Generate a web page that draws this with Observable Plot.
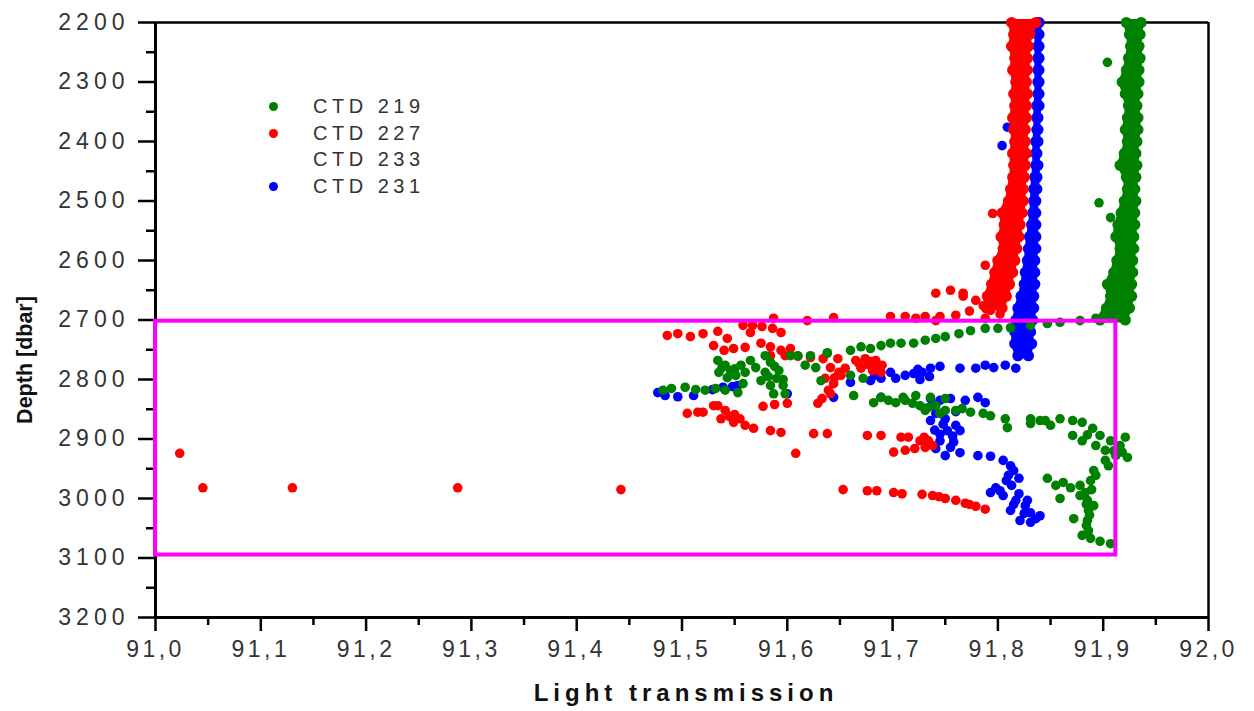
<!DOCTYPE html>
<html>
<head>
<meta charset="utf-8">
<script src="https://cdn.jsdelivr.net/npm/d3@7"></script>
<script src="https://cdn.jsdelivr.net/npm/@observablehq/plot@0.6"></script>
<style>
  html, body { margin: 0; padding: 0; background: #fff; }
  #wrap { position: relative; width: 1254px; height: 711px; font-family: "Liberation Sans", Arial, sans-serif; }
  #wrap svg g[aria-label="y-axis tick label"] text { letter-spacing: 5px; fill: #333; }
  #wrap svg g[aria-label="x-axis tick label"] text { letter-spacing: 3.5px; fill: #333; }
  .ylab { position: absolute; left: 25px; top: 360px; transform: translate(-50%, -50%) rotate(-90deg);
          font-size: 21.5px; font-weight: bold; color: #111; white-space: nowrap; }
  .xlab { position: absolute; left: 686px; top: 693px; transform: translate(-50%, -50%);
          font-size: 24px; font-weight: bold; letter-spacing: 5px; color: #111; white-space: nowrap; }
  .legend { position: absolute; left: 265px; top: 93px; }
  .legend .row { display: flex; align-items: center; height: 26.7px; }
  .legend .sw { width: 9px; height: 9px; border-radius: 50%; margin-left: 3.5px; }
  .legend .lb { margin-left: 35.5px; font-size: 20px; letter-spacing: 4.5px; color: #333; }
</style>
</head>
<body>
<div id="wrap"></div>
<script>
// ---------- legend / series ----------
const seriesNames = ["CTD 219", "CTD 227", "CTD 233", "CTD 231"];
const seriesColors = ["#008000", "#ff0000", "none", "#0000ff"];

// ---------- axes ----------
const xTicks = [91.0, 91.1, 91.2, 91.3, 91.4, 91.5, 91.6, 91.7, 91.8, 91.9, 92.0];
const xMinorTicks = [91.05, 91.15, 91.25, 91.35, 91.45, 91.55, 91.65, 91.75, 91.85, 91.95];
const yTicks = [2200, 2300, 2400, 2500, 2600, 2700, 2800, 2900, 3000, 3100, 3200];
const yMinorTicks = [2250, 2350, 2450, 2550, 2650, 2750, 2850, 2950, 3050, 3150];
const xTitle = "Light transmission";
const yTitle = "Depth [dbar]";

// highlighted region (magenta box)
const boxX = [91.0, 91.912];
const boxY = [2702, 3095];

// ---------- dense vertical profile bands (edges of the dot band) ----------
const greenBandDepth = [2200, 2220, 2240, 2260, 2280, 2300, 2320, 2340, 2360, 2380, 2400, 2420, 2440, 2460, 2480, 2500, 2520, 2540, 2560, 2580, 2600, 2620, 2640, 2660, 2680, 2700];
const greenBandLeft  = [91.922, 91.925, 91.926, 91.924, 91.922, 91.918, 91.921, 91.924, 91.923, 91.921, 91.923, 91.920, 91.916, 91.922, 91.923, 91.920, 91.917, 91.914, 91.912, 91.916, 91.913, 91.910, 91.904, 91.907, 91.903, 91.897];
const greenBandRight = [91.936, 91.935, 91.934, 91.935, 91.934, 91.934, 91.933, 91.932, 91.933, 91.933, 91.932, 91.931, 91.932, 91.931, 91.930, 91.931, 91.930, 91.930, 91.929, 91.929, 91.928, 91.928, 91.927, 91.927, 91.925, 91.921];

const redBandDepth = [2200, 2220, 2240, 2260, 2280, 2300, 2320, 2340, 2360, 2380, 2400, 2420, 2440, 2460, 2480, 2500, 2520, 2540, 2560, 2580, 2600, 2620, 2640, 2660, 2680];
const redBandLeft  = [91.813, 91.815, 91.813, 91.816, 91.814, 91.817, 91.815, 91.816, 91.814, 91.815, 91.816, 91.814, 91.815, 91.814, 91.812, 91.810, 91.804, 91.806, 91.803, 91.805, 91.800, 91.797, 91.794, 91.790, 91.789];
const redBandRight = [91.836, 91.830, 91.829, 91.828, 91.828, 91.827, 91.828, 91.827, 91.827, 91.826, 91.826, 91.827, 91.826, 91.825, 91.824, 91.824, 91.823, 91.821, 91.820, 91.818, 91.816, 91.814, 91.811, 91.808, 91.804];

const blueBandDepth = [2200, 2220, 2240, 2260, 2280, 2300, 2320, 2340, 2360, 2380, 2400, 2420, 2440, 2460, 2480, 2500, 2520, 2540, 2560, 2580, 2600, 2620, 2640, 2660, 2680, 2700, 2720, 2740, 2760];
const blueBandLeft  = [91.838, 91.838, 91.838, 91.838, 91.838, 91.838, 91.838, 91.837, 91.837, 91.837, 91.836, 91.836, 91.836, 91.835, 91.834, 91.834, 91.833, 91.832, 91.830, 91.829, 91.828, 91.826, 91.825, 91.822, 91.819, 91.817, 91.816, 91.816, 91.819];
const blueBandRight = [91.839, 91.839, 91.839, 91.839, 91.839, 91.839, 91.839, 91.839, 91.838, 91.838, 91.838, 91.837, 91.838, 91.837, 91.837, 91.836, 91.836, 91.836, 91.836, 91.836, 91.835, 91.835, 91.835, 91.834, 91.834, 91.833, 91.831, 91.832, 91.829];

// ---------- scattered samples [light transmission, depth] ----------
const redPoints = [
  [91.788,2608],[91.795,2521],[91.767,2660],[91.802,2676],
  [91.741,2655],[91.755,2650],[91.767,2655],[91.779,2667],[91.786,2676],[91.760,2692],[91.741,2701],[91.722,2697],[91.788,2697],[91.802,2690],[91.793,2684],[91.773,2685],
  [91.587,2697],[91.619,2701],[91.644,2696],[91.698,2694],[91.712,2694],[91.731,2694],[91.745,2694],
  [91.486,2726],[91.496,2723],[91.508,2728],[91.520,2723],[91.534,2719],[91.543,2731],[91.530,2743],[91.540,2751],[91.549,2748],[91.560,2746],
  [91.558,2709],[91.567,2709],[91.576,2711],[91.586,2714],[91.594,2721],[91.565,2721],[91.575,2739],[91.584,2745],[91.594,2751],[91.603,2748],
  [91.584,2760],[91.598,2760],[91.610,2761],[91.622,2763],[91.634,2765],[91.648,2765],
  [91.665,2768],[91.674,2765],[91.684,2768],[91.690,2776],[91.670,2781],[91.681,2785],[91.689,2788],[91.677,2775],[91.668,2773],[91.686,2780],[91.680,2770],
  [91.641,2780],[91.649,2788],[91.636,2798],[91.644,2807],[91.639,2818],[91.633,2832],[91.641,2824],[91.651,2793],[91.629,2840],[91.655,2781],[91.645,2797],
  [91.505,2857],[91.515,2855],[91.520,2855],[91.534,2844],[91.541,2852],[91.550,2859],[91.537,2866],[91.549,2872],[91.560,2877],[91.568,2882],[91.555,2866],[91.530,2844],[91.545,2862],
  [91.577,2845],[91.588,2842],[91.600,2840],[91.584,2886],[91.594,2889],[91.625,2891],[91.638,2891],[91.608,2924],[91.676,2894],[91.689,2894],[91.708,2897],[91.715,2897],
  [91.726,2903],[91.734,2903],[91.738,2911],[91.731,2914],[91.721,2916],[91.712,2919],[91.701,2922],[91.730,2897],
  [91.653,2985],[91.676,2987],[91.685,2987],[91.701,2990],[91.709,2992],[91.728,2993],[91.738,2995],[91.744,2997],[91.750,3000],[91.760,3003],[91.769,3008],[91.773,3010],[91.779,3013],[91.788,3018],
  [91.023,2924],[91.045,2982],[91.130,2982],[91.287,2982],[91.442,2985]
];

const greenPoints = [
  [91.904,2267],[91.896,2503],[91.907,2528],
  [91.893,2697],[91.878,2701],[91.859,2704],[91.847,2706],[91.831,2709],[91.812,2713],[91.800,2714],[91.788,2714],[91.774,2718],[91.763,2723],[91.750,2728],[91.741,2731],[91.731,2734],[91.720,2739],[91.708,2739],[91.698,2739],[91.689,2743],[91.679,2748],[91.670,2745],[91.660,2751],[91.638,2756],[91.622,2760],[91.610,2760],
  [91.534,2768],[91.541,2776],[91.535,2788],[91.546,2785],[91.556,2776],[91.560,2788],[91.565,2768],[91.551,2793],[91.543,2797],[91.579,2760],[91.584,2771],[91.592,2785],[91.579,2788],[91.590,2798],[91.575,2802],[91.596,2810],[91.584,2810],[91.603,2760],[91.617,2776],[91.627,2780],[91.632,2802],[91.638,2755],
  [91.538,2780],[91.550,2782],[91.570,2780],[91.588,2778],[91.582,2795],[91.596,2800],
  [91.482,2818],[91.490,2815],[91.503,2813],[91.513,2817],[91.522,2818],[91.532,2815],[91.541,2818],[91.553,2822],[91.558,2807],[91.587,2824],[91.598,2824],
  [91.660,2793],[91.672,2798],[91.663,2827],
  [91.682,2839],[91.689,2830],[91.696,2835],[91.703,2839],[91.712,2835],[91.719,2840],[91.726,2844],[91.734,2847],[91.741,2844],[91.750,2852],[91.760,2852],[91.766,2849],[91.774,2855],[91.786,2857],[91.793,2861],[91.807,2866],[91.809,2881],[91.831,2866],[91.840,2869],[91.850,2877],[91.859,2866],[91.871,2869],[91.880,2872],[91.890,2882],[91.710,2830],[91.722,2827],[91.736,2830],[91.750,2832],[91.731,2852],[91.745,2857],[91.831,2874],[91.845,2869],
  [91.897,2894],[91.907,2903],[91.916,2911],[91.921,2897],[91.912,2928],[91.923,2931],[91.902,2919],[91.893,2911],[91.902,2936],[91.891,2953],[91.880,2903],[91.871,2894],[91.885,2893],[91.910,2920],[91.918,2922],[91.905,2945],
  [91.847,2966],[91.855,2978],[91.862,2973],[91.869,2982],[91.878,2978],[91.883,2990],[91.888,2970],[91.893,2961],[91.885,3003],[91.886,3020],[91.885,3037],[91.886,3054],[91.888,3067],[91.897,3072],[91.907,3076],[91.859,3000],[91.872,3034],[91.878,2995],[91.891,3012],[91.880,3062],[91.884,3045],[91.889,2985],[91.887,3028],[91.884,3010]
];

const bluePoints = [
  [91.809,2376],[91.804,2407],
  [91.807,2776],[91.817,2781],[91.796,2780],[91.788,2776],[91.779,2781],[91.764,2781],[91.745,2778],[91.736,2781],[91.728,2788],[91.712,2793],[91.703,2798],[91.689,2798],[91.679,2802],[91.660,2805],[91.644,2830],[91.689,2830],[91.600,2824],[91.720,2790],[91.726,2800],[91.698,2788],[91.724,2783],[91.735,2795],[91.683,2793],
  [91.477,2822],[91.484,2827],[91.496,2829],[91.511,2827],[91.529,2817],[91.539,2813],[91.548,2812],[91.553,2810],
  [91.736,2832],[91.745,2835],[91.755,2832],[91.769,2835],[91.781,2830],[91.788,2839],[91.731,2849],[91.741,2857],[91.750,2866],[91.760,2877],[91.764,2886],[91.752,2886],[91.745,2903],[91.755,2914],[91.764,2923],[91.750,2928],[91.741,2916],[91.736,2869],[91.760,2854],[91.781,2928],[91.793,2929],
  [91.740,2845],[91.748,2875],[91.757,2895],[91.745,2892],[91.758,2905],[91.740,2885],
  [91.805,2936],[91.812,2945],[91.810,2961],[91.813,2978],[91.802,2987],[91.793,2990],[91.798,2982],[91.820,2992],[91.817,3003],[91.826,3012],[91.831,3024],[91.836,3034],[91.831,3040],[91.821,3037],[91.812,3020],[91.840,3029],[91.815,2953],[91.820,2966],
  [91.808,2970],[91.805,2995],[91.825,3025],[91.828,3003],[91.815,3010]
];

// ---------- build tables ----------
const band = (depths, left, right) => depths.map((d, i) => ({depth: d, left: left[i], right: right[i]}));
const pts = (arr) => arr.map(([x, depth]) => ({x, depth}));
const green = seriesColors[0], red = seriesColors[1], blue = seriesColors[3];
const R = 4.8;       // scattered samples
const RB = 5.6;      // dense band samples
const fmtX = d => d.toFixed(1).replace(".", ",");

function bandMarks(rows, color) {
  return [
    Plot.areaX(rows, {y: "depth", x1: "left", x2: "right", fill: color, stroke: color, strokeWidth: 6}),
    Plot.dot(rows, {x: "left", y: "depth", r: RB, fill: color}),
    Plot.dot(rows, {x: "right", y: "depth", r: RB, fill: color})
  ];
}

const chart = Plot.plot({
  width: 1254,
  height: 711,
  marginLeft: 155,
  marginRight: 46,
  marginTop: 22,
  marginBottom: 94,
  style: {background: "white", fontFamily: "'Liberation Sans', Arial, sans-serif", color: "#000"},
  x: {domain: [91, 92]},
  y: {domain: [2200, 3200], reverse: true},
  marks: [
    Plot.axisY(yTicks, {anchor: "left", tickSize: 17, tickPadding: 9, tickFormat: d => String(d), fontSize: 23, strokeWidth: 2.5, label: null}),
    Plot.axisY(yMinorTicks, {anchor: "left", tickSize: 9, tickFormat: () => "", strokeWidth: 2.5, label: null}),
    Plot.axisX(xTicks, {anchor: "bottom", tickSize: 14, tickPadding: 9, tickFormat: fmtX, fontSize: 23, strokeWidth: 2.5, label: null}),
    Plot.axisX(xMinorTicks, {anchor: "bottom", tickSize: 8, tickFormat: () => "", strokeWidth: 2.5, label: null}),
    Plot.ruleY([yTicks[0]], {strokeWidth: 2.5}),
    Plot.ruleY([yTicks[yTicks.length - 1]], {strokeWidth: 3}),
    Plot.ruleX([xTicks[0]], {strokeWidth: 3}),
    Plot.ruleX([xTicks[xTicks.length - 1]], {strokeWidth: 2.5}),
    ...bandMarks(band(blueBandDepth, blueBandLeft, blueBandRight), blue),
    Plot.dot(pts(bluePoints), {x: "x", y: "depth", r: R, fill: blue}),
    ...bandMarks(band(redBandDepth, redBandLeft, redBandRight), red),
    Plot.dot(pts(redPoints), {x: "x", y: "depth", r: R, fill: red}),
    ...bandMarks(band(greenBandDepth, greenBandLeft, greenBandRight), green),
    Plot.dot(pts(greenPoints), {x: "x", y: "depth", r: R, fill: green}),
    Plot.rect([{x1: boxX[0], x2: boxX[1], y1: boxY[0], y2: boxY[1]}],
      {x1: "x1", x2: "x2", y1: "y1", y2: "y2", fill: "none", stroke: "#ff00ff", strokeWidth: 4})
  ]
});

const wrap = document.getElementById("wrap");
wrap.appendChild(chart);

const yl = document.createElement("div");
yl.className = "ylab"; yl.textContent = yTitle; wrap.appendChild(yl);
const xl = document.createElement("div");
xl.className = "xlab"; xl.textContent = xTitle; wrap.appendChild(xl);

const lg = document.createElement("div");
lg.className = "legend";
seriesNames.forEach((name, i) => {
  const row = document.createElement("div"); row.className = "row";
  const sw = document.createElement("div"); sw.className = "sw";
  sw.style.background = seriesColors[i] === "none" ? "transparent" : seriesColors[i];
  const lb = document.createElement("div"); lb.className = "lb"; lb.textContent = name;
  row.appendChild(sw); row.appendChild(lb); lg.appendChild(row);
});
wrap.appendChild(lg);
</script>
</body>
</html>
